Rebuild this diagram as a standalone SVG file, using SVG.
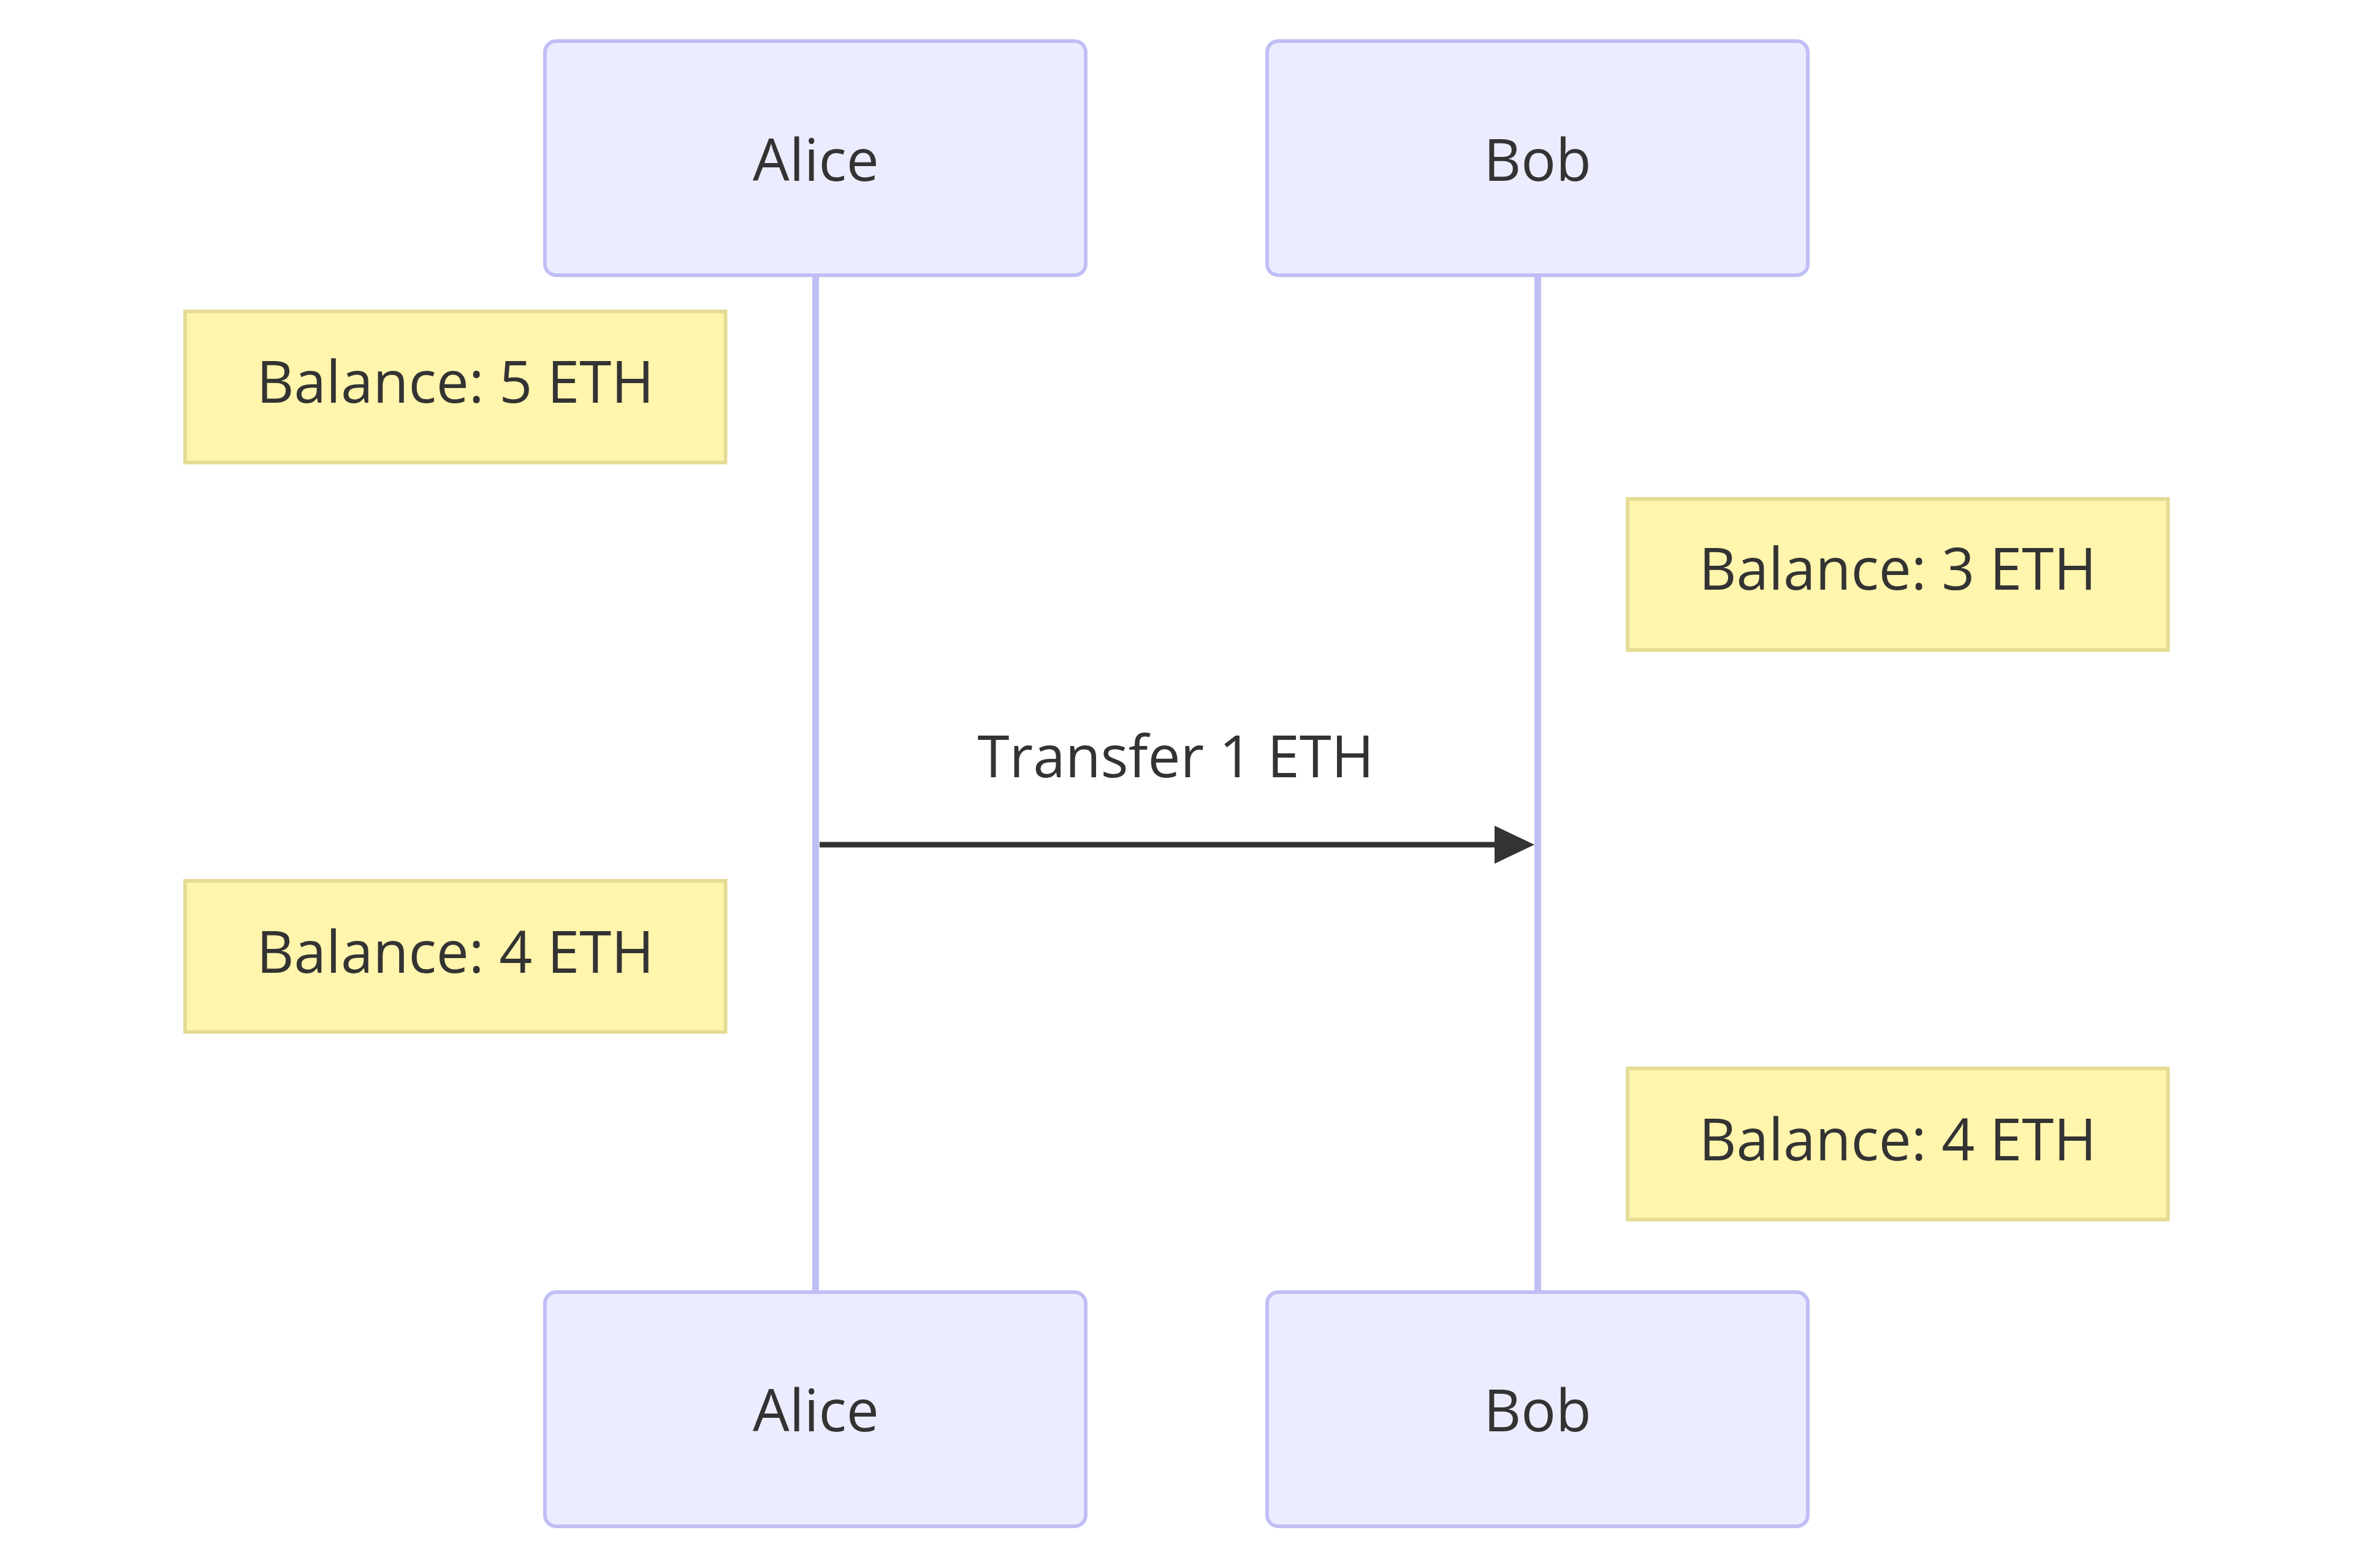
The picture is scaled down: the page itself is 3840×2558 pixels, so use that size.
<svg xmlns="http://www.w3.org/2000/svg" width="3840" height="2558" viewBox="0 0 3840 2558">
  <style>
    .actor { fill: #ECECFF; stroke: #BFBFF6; stroke-width: 6; }
    .note { fill: #FFF5AD; stroke: #E4DB95; stroke-width: 6; }
    .lifeline { stroke: #BFBFF6; stroke-width: 11; fill: none; }
    .msg { stroke: #333333; stroke-width: 9; fill: none; }
    .label { font-family: "Open Sans", "Noto Sans", "Liberation Sans", sans-serif; font-size: 94.5px; fill: #333333; text-anchor: middle; }
  </style>
  <defs>
    <marker id="arrowhead" markerUnits="userSpaceOnUse" viewBox="0 0 65 62" refX="42" refY="31" markerWidth="65" markerHeight="62" orient="auto">
      <path d="M0,0 L65,31 L0,62 Z" fill="#333333"/>
    </marker>
  </defs>
  <rect width="3840" height="2558" fill="#FFFFFF"/>

  <g id="lifelines">
    <line class="lifeline" x1="1330.5" y1="449" x2="1330.5" y2="2108"/>
    <line class="lifeline" x1="2508.5" y1="449" x2="2508.5" y2="2108"/>
  </g>

  <g id="actor-alice-top">
    <rect class="actor" x="889" y="67" width="882" height="382" rx="18" ry="18"/>
    <text class="label" x="1331" y="295">Alice</text>
  </g>
  <g id="actor-bob-top">
    <rect class="actor" x="2067" y="67" width="882" height="382" rx="18" ry="18"/>
    <text class="label" x="2508" y="295">Bob</text>
  </g>

  <g id="note-alice-5">
    <rect class="note" x="302" y="508" width="881.5" height="246.5"/>
    <text class="label" x="742.75" y="657">Balance: 5 ETH</text>
  </g>
  <g id="note-bob-3">
    <rect class="note" x="2655" y="814" width="881.5" height="246.5"/>
    <text class="label" x="3095.75" y="962">Balance: 3 ETH</text>
  </g>

  <g id="connectors">
    <line class="msg" x1="1337" y1="1378" x2="2480" y2="1378" marker-end="url(#arrowhead)"/>
    <text class="label" x="1918" y="1268">Transfer 1 ETH</text>
  </g>

  <g id="note-alice-4">
    <rect class="note" x="302" y="1437" width="881.5" height="246.5"/>
    <text class="label" x="742.75" y="1587">Balance: 4 ETH</text>
  </g>
  <g id="note-bob-4">
    <rect class="note" x="2655" y="1743" width="881.5" height="246.5"/>
    <text class="label" x="3095.75" y="1893">Balance: 4 ETH</text>
  </g>

  <g id="actor-alice-bottom">
    <rect class="actor" x="889" y="2108" width="882" height="382" rx="18" ry="18"/>
    <text class="label" x="1331" y="2335">Alice</text>
  </g>
  <g id="actor-bob-bottom">
    <rect class="actor" x="2067" y="2108" width="882" height="382" rx="18" ry="18"/>
    <text class="label" x="2508" y="2335">Bob</text>
  </g>
</svg>
